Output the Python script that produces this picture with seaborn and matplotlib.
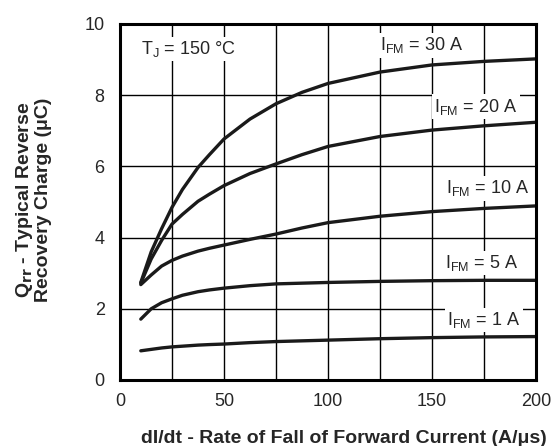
import numpy as np
import pandas as pd
import matplotlib
matplotlib.use("Agg")
import matplotlib.pyplot as plt
import seaborn as sns

# dI/dt (A/us) sample points
didt = [10, 15, 20, 25, 30, 37.5, 43, 50, 62.5, 75, 87.5, 100, 125, 150, 175, 200]
qrr_30a = [2.74, 3.6, 4.25, 4.85, 5.35, 5.97, 6.33, 6.77, 7.33, 7.76, 8.08, 8.33, 8.65, 8.85, 8.95, 9.02]
qrr_20a = [2.72, 3.4, 3.92, 4.38, 4.65, 5.02, 5.22, 5.46, 5.8, 6.07, 6.33, 6.56, 6.84, 7.02, 7.14, 7.24]
qrr_10a = [2.68, 2.95, 3.2, 3.36, 3.48, 3.62, 3.7, 3.79, 3.95, 4.1, 4.27, 4.42, 4.6, 4.73, 4.82, 4.89]
qrr_5a = [1.71, 2.0, 2.17, 2.28, 2.38, 2.48, 2.53, 2.58, 2.65, 2.7, 2.72, 2.74, 2.77, 2.79, 2.8, 2.8]
qrr_1a = [0.82, 0.86, 0.9, 0.93, 0.95, 0.98, 0.995, 1.01, 1.05, 1.08, 1.1, 1.12, 1.16, 1.19, 1.21, 1.22]

currents = ["30 A", "20 A", "10 A", "5 A", "1 A"]
series = [qrr_30a, qrr_20a, qrr_10a, qrr_5a, qrr_1a]
label_xy = [(145, 9.4), (171, 7.68), (177, 5.38), (174, 3.29), (175, 1.69)]

rows = []
for cur, vals in zip(currents, series):
    for x, y in zip(didt, vals):
        rows.append({"didt": x, "qrr": y, "ifm": cur})
df = pd.DataFrame(rows)

sns.set_style("white")
plt.rcParams["font.family"] = ["Liberation Sans", "DejaVu Sans"]

fig = plt.figure(figsize=(5.57, 4.46), dpi=100)
ax = fig.add_axes([120 / 557, 1 - 380 / 446, 416 / 557, 356 / 446])

sns.lineplot(data=df, x="didt", y="qrr", units="ifm", estimator=None,
             color="#1a1a1a", linewidth=2.4, ax=ax, legend=False)

ax.set_xlim(0, 200)
ax.set_ylim(0, 10)
ax.set_xticks([0, 50, 100, 150, 200])
ax.set_xticks(np.arange(0, 201, 25), minor=True)
ax.set_yticks([0, 2, 4, 6, 8, 10])
ax.grid(True, which="both", color="black", linewidth=1.0)
ax.set_axisbelow(True)
ax.tick_params(axis="y", which="both", length=0, labelsize=13, pad=11)
ax.tick_params(axis="x", which="both", length=0, labelsize=13, pad=9)
for s in ax.spines.values():
    s.set_visible(True)
    s.set_color("black")
    s.set_linewidth(2.2)

ax.set_xlabel("dI/dt - Rate of Fall of Forward Current (A/μs)",
              fontsize=14, fontweight="bold")
ax.xaxis.set_label_coords(0.538, -0.14)
ax.set_ylabel("Q$_{\\mathbf{rr}}$ - Typical Reverse\nRecovery Charge (μC)",
              fontsize=14, fontweight="bold", linespacing=1.0)
ax.yaxis.set_label_coords(-0.163, 0.505)

box = dict(facecolor="white", edgecolor="none", pad=1.5)
ax.text(33, 9.3, "T$_\\mathregular{J}$ = 150 °C", fontsize=13, ha="center",
        va="center", bbox=box)
for cur, (lx, ly) in zip(currents, label_xy):
    ax.text(lx, ly, "I$_\\mathregular{FM}$ = " + cur, fontsize=13,
            ha="center", va="center", bbox=box)

fig.savefig("out.png", dpi=100)
